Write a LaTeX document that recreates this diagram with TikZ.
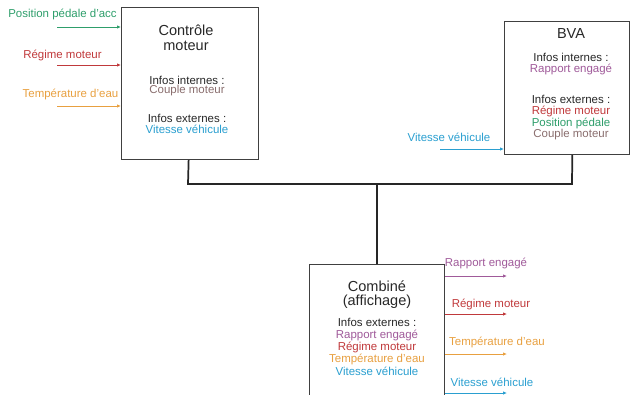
\documentclass[tikz,border=0pt]{standalone}
\usepackage{fontspec}
\setmainfont{Liberation Sans}
\usetikzlibrary{arrows.meta}

\definecolor{cgreen}{RGB}{46,158,107}
\definecolor{cred}{RGB}{192,57,59}
\definecolor{corange}{RGB}{232,160,64}
\definecolor{cblue}{RGB}{42,159,208}
\definecolor{cpurple}{RGB}{160,90,154}
\definecolor{cbrown}{RGB}{138,110,110}
\definecolor{ctext}{RGB}{40,40,40}

\tikzset{
  ecu/.style={draw=black!75, line width=0.9pt, fill=white, anchor=north west, inner sep=0pt},
  title/.style={font=\fontsize{10.9}{12.5}\selectfont, text=ctext, align=center, inner sep=0pt},
  lbl/.style={font=\fontsize{8.6}{9.5}\selectfont, inner sep=0pt},
  bus/.style={draw=black!85, line width=1.3pt},
  sig/.style={line width=0.6pt, -{Latex[length=3pt,width=2.6pt]}},
}

\begin{document}
\begin{tikzpicture}[x=0.75pt, y=-0.75pt]
\useasboundingbox (0,0) rectangle (632,394);

% ECU boxes
\node[ecu, minimum width=102.75pt, minimum height=114pt] (ctrl) at (121,7) {};
\node[ecu, minimum width=93.75pt, minimum height=99.75pt] (bva) at (504,21) {};
\node[ecu, minimum width=101.25pt, minimum height=102pt] (comb) at (309,264) {};

% CAN bus
\coordinate (bus) at (377,184);
\coordinate (busL) at (188,184);
\coordinate (busR) at (572,184);
\draw[bus] ([xshift=-1.1pt]ctrl.south) -- (busL) -- (busR) -- ([xshift=3.9pt]bva.south);
\draw[bus] (bus) -- (comb.north);

% Contrôle moteur contents
\node[title] (ctrlT1) at (186,30) {Contrôle};
\node[title] (ctrlT2) at (186,46) {moteur};
\node[lbl, text=ctext] (ctrlI) at (187,80) {Infos internes :};
\node[lbl, text=cbrown] (ctrlI1) at (187,91) {Couple moteur};
\node[lbl, text=ctext] (ctrlE) at (187,118) {Infos externes :};
\node[lbl, text=cblue] (ctrlE1) at (187,129) {Vitesse véhicule};

% Inputs of the engine controller
\node[lbl, text=cgreen] (inA) at (62.5,14) {Position pédale d'acc};
\node[lbl, text=cred] (inB) at (62.5,55) {Régime moteur};
\node[lbl, text=corange] (inC) at (70.5,94) {Température d'eau};
\coordinate (inA0) at (57,27);
\coordinate (inB0) at (57,65);
\coordinate (inC0) at (57,106);
\draw[sig, cgreen] (inA0) -- (inA0 -| ctrl.west);
\draw[sig, cred] (inB0) -- (inB0 -| ctrl.west);
\draw[sig, corange] (inC0) -- (inC0 -| ctrl.west);

% BVA contents
\node[title] (bvaT) at (571,33) {BVA};
\node[lbl, text=ctext] (bvaI) at (571,57) {Infos internes :};
\node[lbl, text=cpurple] (bvaI1) at (571,69) {Rapport engagé};
\node[lbl, text=ctext] (bvaE) at (571,99) {Infos externes :};
\node[lbl, text=cred] (bvaE1) at (571,111) {Régime moteur};
\node[lbl, text=cgreen] (bvaE2) at (571,123) {Position pédale};
\node[lbl, text=cbrown] (bvaE3) at (571,135) {Couple moteur};

% Input of the gearbox
\node[lbl, text=cblue] (inD) at (449,137) {Vitesse véhicule};
\coordinate (inD0) at (440,149);
\draw[sig, cblue] (inD0) -- (inD0 -| bva.west);

% Combiné contents
\node[title] (combT1) at (377,286) {Combiné};
\node[title] (combT2) at (377,302) {(affichage)};
\node[lbl, text=ctext] (combE) at (377,322) {Infos externes :};
\node[lbl, text=cpurple] (combE1) at (377,335) {Rapport engagé};
\node[lbl, text=cred] (combE2) at (377,347) {Régime moteur};
\node[lbl, text=corange] (combE3) at (377,359) {Température d'eau};
\node[lbl, text=cblue] (combE4) at (377,371) {Vitesse véhicule};

% Outputs of the dashboard
\node[lbl, text=cpurple] (outA) at (486,263) {Rapport engagé};
\node[lbl, text=cred] (outB) at (491,304) {Régime moteur};
\node[lbl, text=corange] (outC) at (497,342) {Température d'eau};
\node[lbl, text=cblue] (outD) at (492,382) {Vitesse véhicule};
\coordinate (outA1) at (507,276);
\coordinate (outB1) at (507,314);
\coordinate (outC1) at (507,354);
\coordinate (outD1) at (507,393);
\draw[sig, cpurple] (outA1 -| comb.east) -- (outA1);
\draw[sig, cred] (outB1 -| comb.east) -- (outB1);
\draw[sig, corange] (outC1 -| comb.east) -- (outC1);
\draw[sig, cblue] (outD1 -| comb.east) -- (outD1);
\end{tikzpicture}
\end{document}
